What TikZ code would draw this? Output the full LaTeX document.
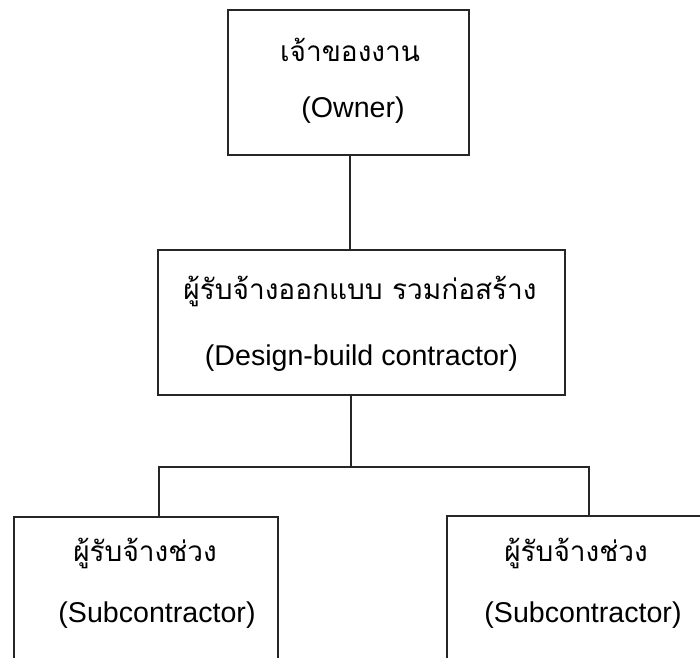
\documentclass[tikz,border=0pt]{standalone}
\usepackage{fontspec}
\setmainfont{Liberation Sans}
\newfontfamily\thaifont[Script=Thai]{Loma}
\begin{document}
\begin{tikzpicture}[x=1pt,y=-1pt,
  box/.style={draw=black!85,line width=2pt,fill=none},
  link/.style={draw=black!85,line width=2pt},
  thai/.style={font=\thaifont\fontsize{28}{32}\selectfont,inner sep=0pt},
  latin/.style={font=\fontsize{28.6}{32}\selectfont,inner sep=0pt}]
\useasboundingbox (0,0) rectangle (700,657);
\clip (0,0) rectangle (700,657);
% boxes
\draw[box] (228,10) rectangle (469,155);
\node[inner sep=0pt,minimum size=0pt] (owner) at (348.5,82.5) {};
\draw[box] (158,250) rectangle (565,395);
\draw[box] (14,517) rectangle (278,680);
\draw[box] (447,516) rectangle (720,680);
% named anchor points of the boxes
\coordinate (ownerS) at (350,155);
\coordinate (dbN) at (350,250);
\coordinate (dbS) at (351,395);
\coordinate (bus) at (351,467);
\coordinate (subAN) at (159,517);
\coordinate (subBN) at (589,516);
% texts
\node[thai] (t1) at (350,50) {เจ้าของงาน};
\node[latin] (e1) at (353,110) {(Owner)};
\node[thai] (t2) at (360,291) {ผู้รับจ้างออกแบบ รวมก่อสร้าง};
\node[latin] (e2) at (361.5,358) {(Design-build contractor)};
\node[thai] (t3) at (145,553) {ผู้รับจ้างช่วง};
\node[latin] (e3) at (157,615) {(Subcontractor)};
\node[thai] (t4) at (576,553) {ผู้รับจ้างช่วง};
\node[latin] (e4) at (583,615) {(Subcontractor)};
% connectors
\draw[link] (ownerS) -- (dbN);
\draw[link] (dbS) -- (bus);
\draw[link] (subAN) |- (bus) -| (subBN);
\end{tikzpicture}
\end{document}
